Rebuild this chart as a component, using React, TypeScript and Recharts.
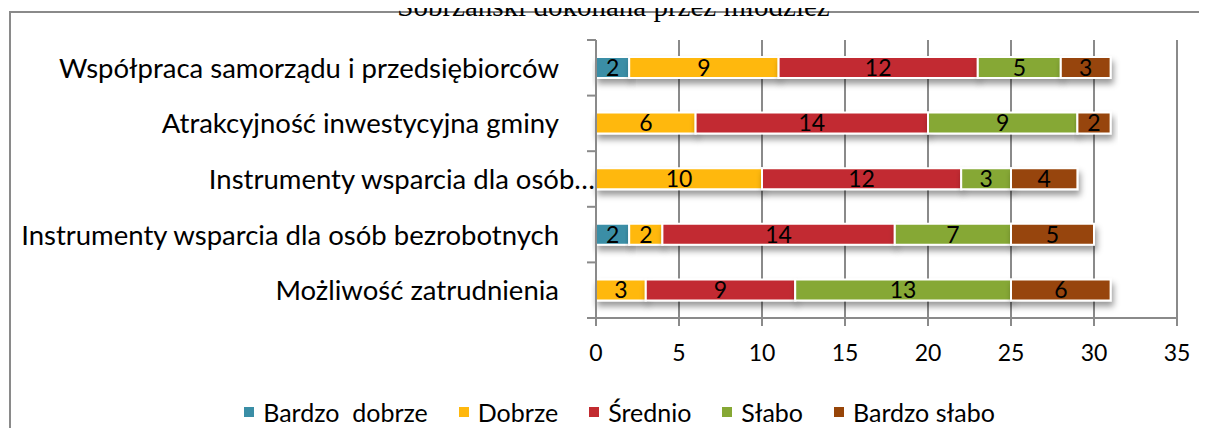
import React from 'react';
import { BarChart, Bar, XAxis, YAxis, CartesianGrid, Legend, LabelList } from 'recharts';

const categories = [
  'Współpraca samorządu i przedsiębiorców',
  'Atrakcyjność inwestycyjna gminy',
  'Instrumenty wsparcia dla osób…',
  'Instrumenty wsparcia dla osób bezrobotnych',
  'Możliwość zatrudnienia',
];
const bardzoDobrze = [2, 0, 0, 2, 0];
const dobrze = [9, 6, 10, 2, 3];
const srednio = [12, 14, 12, 14, 9];
const slabo = [5, 9, 3, 7, 13];
const bardzoSlabo = [3, 2, 4, 5, 6];
const xTicks = [0, 5, 10, 15, 20, 25, 30, 35];
const seriesNames = ['Bardzo  dobrze', 'Dobrze', 'Średnio', 'Słabo', 'Bardzo słabo'];
const seriesKeys = ['bd', 'd', 's', 'sl', 'bs'];
const seriesColors = ['#3A8EA6', '#FFB80E', '#C22B30', '#86A834', '#974508'];
const titleText = 'Sobrzański dokonana przez młodzież';

const data = categories.map((name, i) => ({
  name,
  bd: bardzoDobrze[i],
  d: dobrze[i],
  s: srednio[i],
  sl: slabo[i],
  bs: bardzoSlabo[i],
}));

const W = 1207;
const H = 436;
const FONT = 'Lato, "Open Sans", sans-serif';
const AXIS_X = 596;
const PLOT_TOP = 40;
const PLOT_BOTTOM = 318;
const GRAY = '#8a8a8a';

const YTick = (props: any) => {
  const { y, payload, index } = props;
  const half = (PLOT_BOTTOM - PLOT_TOP) / categories.length / 2;
  const label: string = payload.value;
  const trunc = label.endsWith('…');
  return (
    <g>
      <line x1={AXIS_X - 9} x2={AXIS_X} y1={y - half} y2={y - half} stroke={GRAY} strokeWidth={2} />
      {index === categories.length - 1 && (
        <line x1={AXIS_X - 9} x2={AXIS_X} y1={y + half} y2={y + half} stroke={GRAY} strokeWidth={2} />
      )}
      <text
        x={trunc ? AXIS_X - 1 : AXIS_X - 37}
        y={y}
        dy="0.36em"
        textAnchor="end"
        fontFamily={FONT}
        fontSize={27.5}
        fill="#000"
      >
        {label}
      </text>
    </g>
  );
};

const XTick = (props: any) => {
  const { x, y, payload } = props;
  return (
    <text x={x} y={y} dy="0.71em" textAnchor="middle" fontFamily={FONT} fontSize={23} fill="#000">
      {payload.value}
    </text>
  );
};

const BarLabel = (props: any) => {
  const { x, y, width, height, value } = props;
  if (!value) return null;
  return (
    <text
      x={x + width / 2}
      y={y + height / 2}
      dy="0.36em"
      textAnchor="middle"
      fontFamily={FONT}
      fontSize={23}
      fill="#000"
    >
      {value}
    </text>
  );
};

const LegendContent = (props: any) => {
  const payload = props.payload || [];
  const ordered = seriesNames
    .map((n) => payload.find((p: any) => p.value === n))
    .filter(Boolean);
  return (
    <div
      style={{
        height: 48,
        width: W,
        boxSizing: 'border-box',
        paddingLeft: 32,
        display: 'flex',
        justifyContent: 'center',
        alignItems: 'center',
        fontFamily: FONT,
        fontSize: 25,
        color: '#000',
      }}
    >
      {ordered.map((p: any, i: number) => (
        <div key={i} style={{ display: 'flex', alignItems: 'center', marginLeft: i === 0 ? 0 : 31 }}>
          <span style={{ width: 10, height: 10, background: p.color, display: 'inline-block', marginRight: 9 }} />
          <span style={{ whiteSpace: 'pre' }}>{p.value}</span>
        </div>
      ))}
    </div>
  );
};

export default function App() {
  return (
    <div
      style={{
        position: 'relative',
        width: W,
        height: H,
        marginLeft: -8,
        marginTop: -8,
        marginBottom: -8,
        overflow: 'hidden',
        background: '#fff',
      }}
    >
      <svg width={0} height={0} style={{ position: 'absolute', left: 0, top: 0 }}>
        <defs>
          <filter id="barShadow" x="-10%" y="-40%" width="130%" height="220%">
            <feDropShadow dx="2" dy="5" stdDeviation="3" floodColor="#000" floodOpacity="0.4" />
          </filter>
        </defs>
      </svg>
      <style>{`.recharts-bar-rectangle { filter: url(#barShadow); }`}</style>
      <div style={{ position: 'absolute', left: 9, top: 11, width: W - 9, height: 2, background: GRAY }} />
      <div style={{ position: 'absolute', left: 9, top: 11, width: 2, height: H - 11, background: GRAY }} />
      <div
        style={{
          position: 'absolute',
          left: 0,
          top: -11,
          width: W,
          paddingLeft: 20,
          boxSizing: 'border-box',
          textAlign: 'center',
          fontFamily: '"Liberation Serif", "Times New Roman", serif',
          fontSize: 29,
          lineHeight: '34px',
          color: '#000',
          whiteSpace: 'nowrap',
        }}
      >
        {titleText}
      </div>
      <div style={{ position: 'absolute', left: 0, top: 0 }}>
        <BarChart
          width={W}
          height={H}
          data={data}
          layout="vertical"
          margin={{ top: PLOT_TOP, right: W - 1177, left: 0, bottom: 0 }}
          barSize={21}
        >
          <CartesianGrid horizontal={false} stroke={GRAY} strokeWidth={2} />
          <XAxis
            type="number"
            domain={[0, 35]}
            ticks={xTicks}
            interval={0}
            height={70}
            axisLine={{ stroke: GRAY, strokeWidth: 2 }}
            tickLine={{ stroke: GRAY, strokeWidth: 2 }}
            tickSize={8}
            tickMargin={19}
            tick={<XTick />}
          />
          <YAxis
            type="category"
            dataKey="name"
            width={AXIS_X}
            axisLine={{ stroke: GRAY, strokeWidth: 2 }}
            tickLine={false}
            tick={<YTick />}
            interval={0}
          />
          <Legend
            verticalAlign="bottom"
            content={<LegendContent />}
            wrapperStyle={{ left: 0, width: W }}
          />
          {seriesKeys.map((k, i) => (
            <Bar
              key={k}
              dataKey={k}
              name={seriesNames[i]}
              stackId="a"
              fill={seriesColors[i]}
              stroke="#fff"
              strokeWidth={2}
              isAnimationActive={false}
            >
              <LabelList dataKey={k} content={<BarLabel />} />
            </Bar>
          ))}
        </BarChart>
      </div>
    </div>
  );
}
